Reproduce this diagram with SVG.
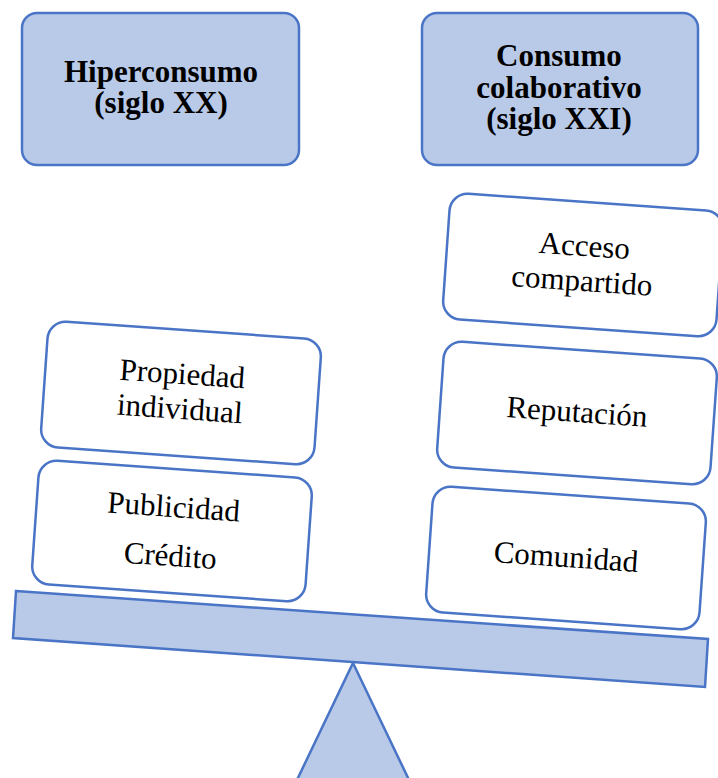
<svg xmlns="http://www.w3.org/2000/svg" width="718" height="778" viewBox="0 0 718 778">
  <style>
    .hdr { fill: #B8CAE8; stroke: #4A74C6; stroke-width: 2.5; }
    .box { fill: #FFFFFF; stroke: #4A74C6; stroke-width: 2.5; }
    .shape { fill: #B8CAE8; stroke: #4A74C6; stroke-width: 2.5; stroke-linejoin: miter; }
    .tb { font-family: "Liberation Serif", "Times New Roman", serif; font-weight: bold; font-size: 31px; fill: #000; text-anchor: middle; }
    .t { font-family: "Liberation Serif", "Times New Roman", serif; font-size: 31px; fill: #000; text-anchor: middle; }
  </style>

  <g id="balance">
    <polygon class="shape" points="353,663 410,782 296,782"/>
    <polygon class="shape" points="16,591 708,639 705,687 13,638"/>
  </g>

  <g id="hiperconsumo">
    <rect class="hdr" x="22" y="13" width="277" height="152" rx="15"/>
    <text class="tb" x="161" y="82">Hiperconsumo</text>
    <text class="tb" x="161" y="113">(siglo XX)</text>
  </g>

  <g id="consumo-colaborativo">
    <rect class="hdr" x="422" y="13" width="276" height="152" rx="15"/>
    <text class="tb" x="559" y="66">Consumo</text>
    <text class="tb" x="559" y="97.5">colaborativo</text>
    <text class="tb" x="559" y="129">(siglo XXI)</text>
  </g>

  <g id="propiedad-individual" transform="translate(181 393) rotate(4)">
    <rect class="box" x="-137" y="-63" width="274" height="126" rx="18"/>
    <text class="t" x="0" y="-9">Propiedad</text>
    <text class="t" x="0" y="26">individual</text>
  </g>

  <g id="publicidad-credito" transform="translate(172 531) rotate(4)">
    <rect class="box" x="-137" y="-62" width="274" height="124" rx="18"/>
    <text class="t" x="0" y="-14">Publicidad</text>
    <text class="t" x="0" y="35">Crédito</text>
  </g>

  <g id="acceso-compartido" transform="translate(583 265) rotate(4)">
    <rect class="box" x="-137" y="-63" width="274" height="126" rx="18"/>
    <text class="t" x="0" y="-9">Acceso</text>
    <text class="t" x="0" y="26">compartido</text>
  </g>

  <g id="reputacion" transform="translate(577 413) rotate(4)">
    <rect class="box" x="-137" y="-63" width="274" height="126" rx="18"/>
    <text class="t" x="0" y="9">Reputación</text>
  </g>

  <g id="comunidad" transform="translate(566 558) rotate(4)">
    <rect class="box" x="-137" y="-63" width="274" height="126" rx="18"/>
    <text class="t" x="0" y="9">Comunidad</text>
  </g>

  <g id="connectors"></g>
</svg>
